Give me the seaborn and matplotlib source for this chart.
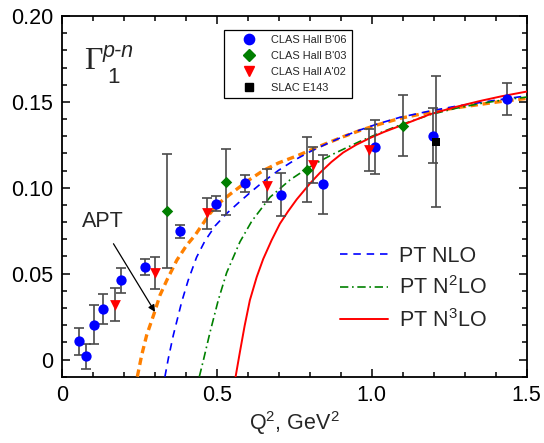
import matplotlib
matplotlib.use("Agg")
import matplotlib.pyplot as plt
from matplotlib.lines import Line2D
import seaborn as sns

# ---- data ----
b06_x = [0.055, 0.079, 0.103, 0.134, 0.190, 0.269, 0.383, 0.499, 0.591, 0.707, 0.844, 1.011, 1.199, 1.437]
b06_y = [0.0106, 0.0019, 0.0203, 0.0292, 0.0461, 0.0540, 0.0747, 0.0907, 0.1025, 0.0960, 0.1021, 0.1236, 0.1304, 0.1517]
b06_err = [0.0078, 0.0074, 0.0115, 0.0088, 0.0073, 0.0048, 0.0038, 0.0045, 0.0050, 0.0125, 0.0172, 0.0157, 0.0160, 0.0092]

b03_x = [0.341, 0.531, 0.790, 1.100]
b03_y = [0.0863, 0.1033, 0.1105, 0.1362]
b03_err = [0.0333, 0.0194, 0.0189, 0.0179]

a02_x = [0.172, 0.300, 0.470, 0.661, 0.812, 0.992]
a02_y = [0.0320, 0.0503, 0.0852, 0.1012, 0.1135, 0.1220]
a02_err = [0.0095, 0.0093, 0.0091, 0.0095, 0.0105, 0.0120]

slac_x = [1.207]
slac_y = [0.1269]
slac_err = [0.0380]

apt_x = [0.244, 0.258, 0.274, 0.298, 0.317, 0.339, 0.371, 0.403, 0.430, 0.452, 0.478, 0.505, 0.543,
         0.600, 0.650, 0.700, 0.758, 0.801, 0.850, 0.908, 0.960, 1.016, 1.091, 1.188, 1.270, 1.349,
         1.420, 1.500]
apt_y = [-0.010, 0.0025, 0.0141, 0.0267, 0.0374, 0.0461, 0.0577, 0.0665, 0.0723, 0.0781, 0.0849, 0.0907, 0.0962,
         0.1040, 0.1100, 0.1145, 0.1185, 0.1218, 0.1255, 0.1297, 0.1332, 0.1365, 0.1404, 0.1440, 0.1465, 0.1485,
         0.1503, 0.1520]

nlo_x = [0.333, 0.344, 0.360, 0.387, 0.408, 0.435, 0.462, 0.495, 0.532, 0.570, 0.610, 0.650, 0.700,
         0.750, 0.801, 0.855, 0.908, 0.960, 1.016, 1.091, 1.188, 1.270, 1.349, 1.420, 1.500]
nlo_y = [-0.010, 0.0006, 0.0141, 0.0335, 0.0461, 0.0595, 0.0690, 0.0778, 0.0850, 0.0912, 0.0975, 0.1035, 0.1102,
         0.1160, 0.1210, 0.1256, 0.1298, 0.1335, 0.1370, 0.1410, 0.1447, 0.1474, 0.1496, 0.1515, 0.1535]

n2lo_x = [0.444, 0.457, 0.478, 0.505, 0.532, 0.575, 0.613, 0.672, 0.736, 0.790, 0.833, 0.880, 0.962,
          1.030, 1.091, 1.188, 1.270, 1.349, 1.420, 1.500]
n2lo_y = [-0.010, -0.0005, 0.0155, 0.0345, 0.0505, 0.0685, 0.0805, 0.0945, 0.1045, 0.1110, 0.1155, 0.1200, 0.1270,
          0.1322, 0.1365, 0.1425, 0.1462, 0.1490, 0.1510, 0.1528]

n3lo_x = [0.561, 0.575, 0.590, 0.607, 0.629, 0.650, 0.677, 0.704, 0.730, 0.758, 0.801, 0.833, 0.870,
          0.908, 0.950, 0.995, 1.040, 1.091, 1.188, 1.270, 1.349, 1.420, 1.500]
n3lo_y = [-0.010, 0.0045, 0.0195, 0.0345, 0.0480, 0.0585, 0.0694, 0.0791, 0.0862, 0.0932, 0.1025, 0.1087, 0.1150,
          0.1205, 0.1250, 0.1290, 0.1325, 0.1360, 0.1428, 0.1470, 0.1505, 0.1533, 0.1560]

sns.set_style("ticks")
plt.rcParams['font.family'] = ['Liberation Sans', 'DejaVu Sans']
plt.rcParams['mathtext.fontset'] = 'custom'
plt.rcParams['mathtext.rm'] = 'Liberation Sans'
plt.rcParams['mathtext.it'] = 'Liberation Sans:italic'

fig = plt.figure(figsize=(5.44, 4.43), dpi=100)
ax = fig.add_axes([0.1134, 0.1497, 0.8548, 0.8142])

# theory curves
apt_ls = (0, (2.2, 1.4))
nlo_ls = (0, (4.5, 3.5))
n2lo_ls = (0, (5, 2.2, 1, 2.2))
sns.lineplot(x=apt_x, y=apt_y, ax=ax, sort=False, color='#FF8000', lw=2.4, linestyle=apt_ls, zorder=3)
sns.lineplot(x=nlo_x, y=nlo_y, ax=ax, sort=False, color='#0000FF', lw=1.2, linestyle=nlo_ls, zorder=3)
sns.lineplot(x=n2lo_x, y=n2lo_y, ax=ax, sort=False, color='#008000', lw=1.2, linestyle=n2lo_ls, zorder=3)
sns.lineplot(x=n3lo_x, y=n3lo_y, ax=ax, sort=False, color='#FF0000', lw=1.4, zorder=3)

# error bars
ecol = '#4a4a4a'
for xs, ys, es in [(b06_x, b06_y, b06_err), (b03_x, b03_y, b03_err),
                   (a02_x, a02_y, a02_err), (slac_x, slac_y, slac_err)]:
    ax.errorbar(xs, ys, yerr=es, fmt='none', ecolor=ecol, elinewidth=1.2,
                capsize=3.3, capthick=1.2, zorder=4)

# data points
sns.scatterplot(x=b06_x, y=b06_y, ax=ax, marker='o', color='#0000FF', s=55, linewidth=0, zorder=5)
sns.scatterplot(x=b03_x, y=b03_y, ax=ax, marker='D', color='#007F00', s=34, linewidth=0, zorder=5)
sns.scatterplot(x=a02_x, y=a02_y, ax=ax, marker='v', color='#FF0000', s=60, linewidth=0, zorder=5)
sns.scatterplot(x=slac_x, y=slac_y, ax=ax, marker='s', color='black', s=30, linewidth=0, zorder=6)

# axes styling
ax.set_xlim(0, 1.5)
ax.set_ylim(-0.01, 0.20)
ax.set_xticks([0, 0.5, 1.0, 1.5])
ax.set_xticklabels(['0', '0.5', '1.0', '1.5'])
ax.set_xticks([i / 10 for i in range(16)], minor=True)
ax.set_yticks([0, 0.05, 0.10, 0.15, 0.20])
ax.set_yticklabels(['0', '0.05', '0.10', '0.15', '0.20'])
ax.set_yticks([i / 100 for i in range(-1, 21)], minor=True)
ax.tick_params(which='both', direction='in', top=True, right=True, width=1.1, colors='black')
ax.tick_params(which='major', length=6, labelsize=15.5)
ax.tick_params(axis='x', which='major', pad=6)
ax.tick_params(axis='y', which='major', pad=6)
ax.tick_params(which='minor', length=3.5)
for sp in ax.spines.values():
    sp.set_linewidth(1.3)
    sp.set_color('black')
ax.set_xlabel('Q$^2$, GeV$^2$', fontsize=15.5, labelpad=2)
ax.set_ylabel('')

# Gamma label
ax.text(0.048, 0.853, '\u0393', transform=ax.transAxes, fontsize=23,
        family='Liberation Serif', ha='left', va='baseline')
ax.text(0.088, 0.885, 'p-n', transform=ax.transAxes, fontsize=15.5,
        style='italic', ha='left', va='baseline')
ax.text(0.098, 0.815, '1', transform=ax.transAxes, fontsize=16, ha='left', va='baseline')

# APT annotation
ax.text(0.133, 0.0802, 'APT', fontsize=15.5, ha='center', va='center')
ax.annotate('', xy=(0.301, 0.0277), xytext=(0.167, 0.0674),
            arrowprops=dict(arrowstyle='-|>', color='black', lw=0.9, mutation_scale=10,
                            shrinkA=0, shrinkB=0))

# marker legend
mk = [Line2D([], [], ls='none', marker='o', color='#0000FF', ms=7.4),
      Line2D([], [], ls='none', marker='D', color='#007F00', ms=5.8),
      Line2D([], [], ls='none', marker='v', color='#FF0000', ms=7.7),
      Line2D([], [], ls='none', marker='s', color='black', ms=5.5)]
leg1 = ax.legend(mk, ["CLAS Hall B'06", "CLAS Hall B'03", "CLAS Hall A'02", "SLAC E143"],
                 loc='upper left', bbox_to_anchor=(0.349, 0.962), fontsize=7.9,
                 frameon=True, fancybox=False, edgecolor='black', framealpha=1,
                 handlelength=3.5, handletextpad=0.25, labelspacing=0.53, borderpad=0.5,
                 borderaxespad=0)
leg1.get_frame().set_linewidth(0.9)
ax.add_artist(leg1)

# line legend
ln = [Line2D([], [], color='#0000FF', lw=1.2, ls=nlo_ls),
      Line2D([], [], color='#008000', lw=1.2, ls=n2lo_ls),
      Line2D([], [], color='#FF0000', lw=1.4)]
ax.legend(ln, ['PT NLO', 'PT N$^2$LO', 'PT N$^3$LO'], loc='upper left',
          bbox_to_anchor=(0.580, 0.3875), fontsize=15.5, frameon=False,
          handlelength=2.23, handletextpad=0.5, labelspacing=0.45, borderaxespad=0)

fig.savefig('out.png', dpi=100)
